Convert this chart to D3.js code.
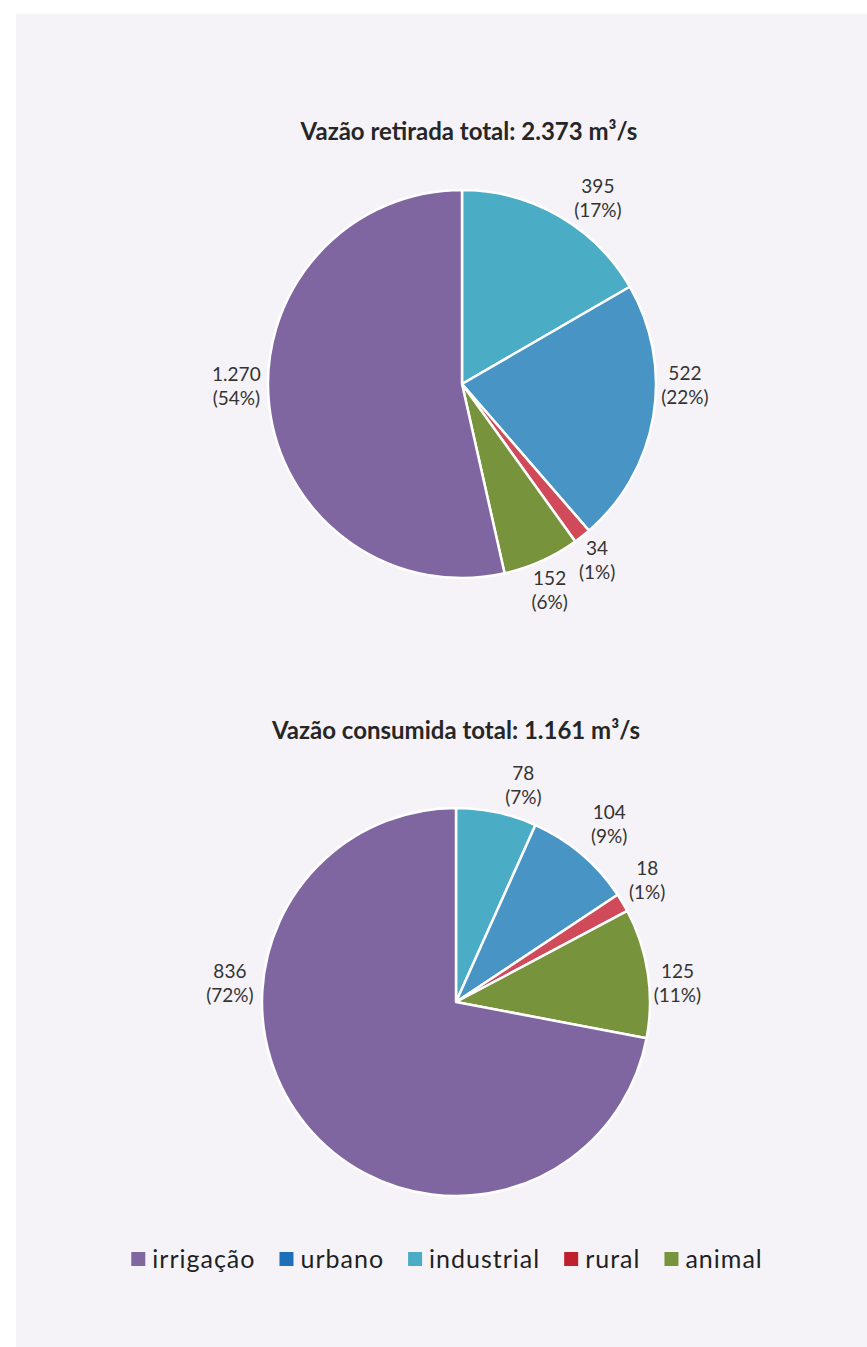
<!DOCTYPE html>
<html>
<head>
<meta charset="utf-8">
<script src="https://cdn.jsdelivr.net/npm/d3@7/dist/d3.min.js"></script>
<style>
  html, body { margin: 0; padding: 0; background: #ffffff; }
  svg { display: block; }
  text { font-family: Lato, "Open Sans", sans-serif; }
</style>
</head>
<body>
<svg id="chart" width="867" height="1347"></svg>
<script>
// Water use categories, in slice order (clockwise from 12 o'clock)
const categories = ["industrial", "urbano", "rural", "animal", "irrigação"];

// Withdrawal flow (m³/s) per category
const retirada = [395, 522, 34, 152, 1270];
const retiradaPct = ["17%", "22%", "1%", "6%", "54%"];

// Consumed flow (m³/s) per category
const consumida = [78, 104, 18, 125, 836];
const consumidaPct = ["7%", "9%", "1%", "11%", "72%"];

// Legend order
const legendOrder = ["irrigação", "urbano", "industrial", "rural", "animal"];

const sliceColor = d3.scaleOrdinal()
  .domain(categories)
  .range(["#4bacc6", "#4794c5", "#d14a5a", "#77933c", "#8066a1"]);
const legendColor = d3.scaleOrdinal()
  .domain(categories)
  .range(["#4bacc6", "#1b70b9", "#c0202b", "#77933c", "#8066a1"]);

const ptBR = d3.formatLocale({ decimal: ",", thousands: ".", grouping: [3], currency: ["R$", ""] });
const fmt = ptBR.format(",d");

const svg = d3.select("#chart");

// panel background
svg.append("rect")
  .attr("x", 16).attr("y", 14)
  .attr("width", 851).attr("height", 1333)
  .attr("fill", "#f5f3f8");

const R = 194;
const labelR = 226;

function drawPie(cfg) {
  const total = d3.sum(cfg.values);
  const g = svg.append("g").attr("transform", `translate(${cfg.cx},${cfg.cy})`);

  svg.append("text")
    .attr("x", cfg.titleX).attr("y", cfg.titleY)
    .attr("text-anchor", "middle")
    .attr("font-weight", "bold")
    .attr("font-size", 24)
    .attr("fill", "#262626")
    .text(`${cfg.title} ${fmt(total)} m³/s`);

  const pie = d3.pie().sort(null).value(d => d.v);
  const data = pie(cfg.values.map((v, i) => ({ v, cat: categories[i], pct: cfg.pct[i] })));

  const arc = d3.arc().innerRadius(0).outerRadius(R);
  g.selectAll("path.slice")
    .data(data)
    .join("path")
    .attr("class", "slice")
    .attr("d", arc)
    .attr("fill", d => sliceColor(d.data.cat))
    .attr("stroke", "#ffffff")
    .attr("stroke-width", 2.5)
    .attr("stroke-linejoin", "round");

  const labelArc = d3.arc().innerRadius(labelR).outerRadius(labelR);
  const lbl = g.selectAll("text.lbl")
    .data(data)
    .join("text")
    .attr("class", "lbl")
    .attr("text-anchor", "middle")
    .attr("font-size", 19)
    .attr("fill", "#333333")
    .attr("transform", (d, i) => {
      const [x, y] = labelArc.centroid(d);
      const [nx, ny] = cfg.nudge[i];
      return `translate(${x + nx},${y + ny})`;
    });
  lbl.append("tspan").attr("x", 0).attr("y", -12).attr("dy", "0.35em").text(d => fmt(d.data.v));
  lbl.append("tspan").attr("x", 0).attr("y", 12).attr("dy", "0.35em").text(d => `(${d.data.pct})`);
}

drawPie({
  cx: 462, cy: 384, titleX: 469, titleY: 140,
  title: "Vazão retirada total:",
  values: retirada, pct: retiradaPct,
  nudge: [[23, 10], [0, -36], [-5, -1], [-5, 0], [-1, -23]]
});

drawPie({
  cx: 456, cy: 1002, titleX: 456, titleY: 739,
  title: "Vazão consumida total:",
  values: consumida, pct: consumidaPct,
  nudge: [[20, 4], [7, -5], [-3, -6], [-2, 15], [-52, -163]]
});

// legend, laid out left to right and centred
const legend = svg.append("g");
const items = legend.selectAll("g.item")
  .data(legendOrder)
  .join("g")
  .attr("class", "item");
items.append("rect")
  .attr("width", 14).attr("height", 14)
  .attr("y", -7)
  .attr("fill", d => legendColor(d));
items.append("text")
  .attr("x", 21).attr("y", 0)
  .attr("dy", "0.35em")
  .attr("font-size", 25)
  .attr("letter-spacing", 1)
  .attr("fill", "#1f1f1f")
  .text(d => d);

let xPos = 0;
items.each(function () {
  const node = d3.select(this);
  node.attr("transform", `translate(${xPos},0)`);
  const w = 21 + node.select("text").node().getComputedTextLength();
  xPos += w + 24;
});
const legendWidth = xPos - 24;
legend.attr("transform", `translate(${447 - legendWidth / 2},1259)`);
</script>
</body>
</html>
